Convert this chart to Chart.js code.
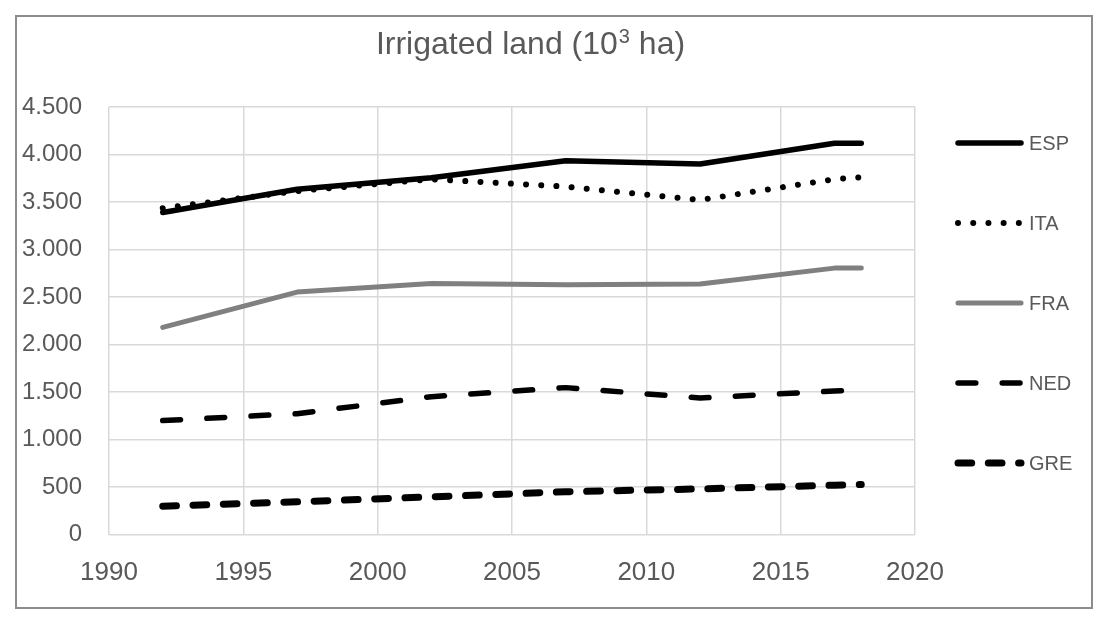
<!DOCTYPE html>
<html>
<head>
<meta charset="utf-8">
<script src="https://cdn.jsdelivr.net/npm/chart.js@4"></script>
<style>
    body { margin: 0; background: #fff; }
    #wrap { position: relative; width: 1103px; height: 619px; }
    #frame { position: absolute; left: 15px; top: 15px; width: 1074px; height: 590px; border: 2px solid #8c8c8c; }
    #chart { position: absolute; left: 0; top: 0; }
</style>
</head>
<body>
<div id="wrap">
    <div id="frame"></div>
    <canvas id="chart" width="1103" height="619"></canvas>
</div>
<script>
// title is split so the exponent can be drawn raised
const titleParts = ['Irrigated land (10', '3', ' ha)'];
const years = [1992, 1997, 2002, 2007, 2012, 2017, 2018];
const countries = ['ESP', 'ITA', 'FRA', 'NED', 'GRE'];
const esp = [3390, 3635, 3755, 3935, 3900, 4118, 4118];
const ita = [3435, 3615, 3740, 3662, 3522, 3740, 3761];
const fra = [2180, 2552, 2643, 2629, 2636, 2804, 2804];
const ned = [1199, 1272, 1451, 1546, 1437, 1511, 1515];
const gre = [298, 344, 396, 450, 480, 519, 526];
const xTicks = [1990, 1995, 2000, 2005, 2010, 2015, 2020];
const yTicks = [0, 500, 1000, 1500, 2000, 2500, 3000, 3500, 4000, 4500];

const textColor = '#595959';
const fontFamily = '"Liberation Sans", Arial, sans-serif';

function points(values) {
    return years.map(function (yr, i) { return { x: yr, y: values[i] }; });
}

// thousands separator with a dot, like the original
function fmt(v) {
    return String(v).replace(/\B(?=(\d{3})+(?!\d))/g, '.');
}

const styles = [
    { color: '#000000', width: 5.5, dash: [], cap: 'round' },
    { color: '#000000', width: 6, dash: [0.01, 15.2], cap: 'round' },
    { color: '#808080', width: 5, dash: [], cap: 'round' },
    { color: '#000000', width: 5.5, dash: [17.8, 26.4], cap: 'round' },
    { color: '#000000', width: 7, dash: [13.7, 16.6], cap: 'round' }
];
const series = [esp, ita, fra, ned, gre];

const titlePlugin = {
    id: 'sideTitle',
    afterDraw: function (chart) {
        const c = chart.ctx;
        const big = '32px ' + fontFamily;
        const small = '20px ' + fontFamily;
        c.save();
        c.fillStyle = textColor;
        c.textBaseline = 'alphabetic';
        c.textAlign = 'left';
        c.font = big;
        const w0 = c.measureText(titleParts[0]).width;
        const w2 = c.measureText(titleParts[2]).width;
        c.font = small;
        const w1 = c.measureText(titleParts[1]).width;
        let x = 530 - (w0 + w1 + w2) / 2;
        const base = 54;
        c.font = big;
        c.fillText(titleParts[0], x, base);
        x += w0;
        c.font = small;
        c.fillText(titleParts[1], x + 1, base - 11);
        x += w1 + 1;
        c.font = big;
        c.fillText(titleParts[2], x, base);
        c.restore();
    }
};

const legendPlugin = {
    id: 'sideLegend',
    afterDraw: function (chart) {
        const c = chart.ctx;
        chart.data.datasets.forEach(function (ds, i) {
            const y = 143 + i * 80;
            c.save();
            c.strokeStyle = ds.borderColor;
            c.lineWidth = ds.borderWidth;
            c.lineCap = ds.borderCapStyle;
            c.setLineDash(ds.borderDash);
            c.beginPath();
            c.moveTo(958, y);
            c.lineTo(1021, y);
            c.stroke();
            c.setLineDash([]);
            c.fillStyle = textColor;
            c.font = '20px ' + fontFamily;
            c.textAlign = 'left';
            c.textBaseline = 'middle';
            c.fillText(ds.label, 1029, y + 1);
            c.restore();
        });
    }
};

new Chart(document.getElementById('chart'), {
    type: 'line',
    data: {
        datasets: countries.map(function (name, i) {
            return {
                label: name,
                data: points(series[i]),
                borderColor: styles[i].color,
                borderWidth: styles[i].width,
                borderDash: styles[i].dash,
                borderCapStyle: styles[i].cap,
                borderJoinStyle: 'round',
                pointRadius: 0,
                fill: false,
                tension: 0
            };
        })
    },
    options: {
        responsive: false,
        animation: false,
        layout: { padding: { top: 107, right: 188, bottom: 0, left: 0 } },
        plugins: {
            legend: { display: false },
            title: { display: false },
            tooltip: { enabled: false }
        },
        scales: {
            x: {
                type: 'linear',
                min: xTicks[0],
                max: xTicks[xTicks.length - 1],
                afterBuildTicks: function (scale) {
                    scale.ticks = xTicks.map(function (v) { return { value: v }; });
                },
                afterFit: function (scale) { scale.height = 619 - 534.5; },
                ticks: {
                    color: textColor,
                    font: { family: fontFamily, size: 26 },
                    padding: 23,
                    maxRotation: 0,
                    autoSkip: false,
                    callback: function (v) { return String(v); }
                },
                grid: { color: '#d9d9d9', lineWidth: 1.5, drawTicks: false },
                border: { display: false }
            },
            y: {
                min: yTicks[0],
                max: yTicks[yTicks.length - 1],
                afterBuildTicks: function (scale) {
                    scale.ticks = yTicks.map(function (v) { return { value: v }; });
                },
                afterFit: function (scale) { scale.width = 109; },
                ticks: {
                    color: textColor,
                    font: { family: fontFamily, size: 24 },
                    padding: 27,
                    autoSkip: false,
                    callback: function (v) { return fmt(v); }
                },
                grid: { color: '#d9d9d9', lineWidth: 1.5, drawTicks: false },
                border: { display: false }
            }
        }
    },
    plugins: [titlePlugin, legendPlugin]
});
</script>
</body>
</html>
